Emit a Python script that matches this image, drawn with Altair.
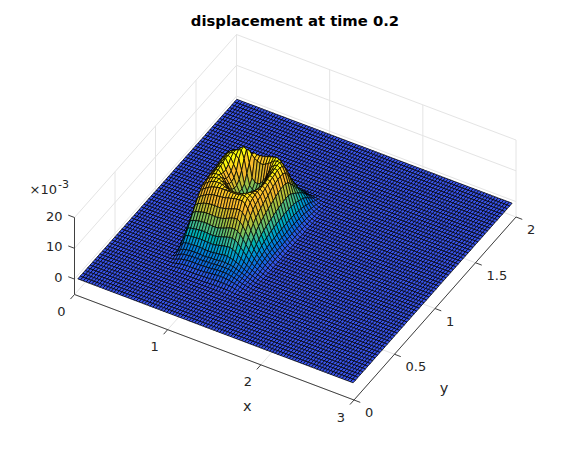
import altair as alt

alt.data_transformers.disable_max_rows()

TITLE = "displacement at time 0.2"
X_TICKS = [0, 1, 2, 3]
Y_TICKS = [0, 0.5, 1, 1.5, 2]
Y_TICK_TEXT = ["0", "0.5", "1", "1.5", "2"]
Z_TICKS = [0, 10, 20]
Z_MIN = -5
Z_MAX = 20
NX = 100
NY = 66
X_FIRST, X_STEP = 0.025, 0.02985
Y_FIRST, Y_STEP = 0.012, 0.0302
BUMP_K0 = 20   # mesh column of the first row of the table
BUMP_J0 = 12   # mesh row of the first column of the table

# displacement (x 1e-3); rows run along x, columns along y
BUMP = [
    [0,0,0,0,0,0,.1,.2,.3,.5,.7,.9,1.1,1.3,1.5,1.7,1.8,1.9,2,2,2,2,1.9,1.9,1.8,1.7,1.5,1.3,1,.7,.5,.3,.1,0,0,0,0],
    [0,0,0,.1,.4,.9,1.7,2.8,4,5.3,6.6,7.9,9.2,10.3,11.4,12,12.5,12.8,13,13,13,13,13,12.8,12.5,12,11,10,8.5,7,5.5,4,2.6,1.5,.6,.1,0],
    [0,0,.1,.4,1,1.8,3,4.5,6,7.5,9.2,10.8,12.3,13.6,14.5,15,15.2,15.5,15.5,15.5,15.5,15.5,15.5,15.2,15,14.3,13,11.5,10,8.2,6.5,4.8,3.2,1.9,.8,.2,0],
    [0,.1,.3,.8,1.5,2.2,3.4,4.9,6.4,8,10,11.7,13.2,14.6,15.5,16.2,16.5,16.5,16.7,17,17.2,17.5,17.5,17.2,17,16,14.5,12.8,11,9,7,5.2,3.5,2,.9,.2,0],
    [0,.2,.5,1.1,1.8,2.4,3.5,4.9,6.5,8.2,10.2,12,13.7,15.2,16.2,16.8,17.2,17.5,17.8,18,18,18.3,18.5,18.3,17.7,16.8,15,13.2,11.3,9.2,7.2,5.3,3.6,2.1,.9,.2,0],
    [0,.3,.7,1.3,1.9,2.5,3.5,5,6.7,8.5,10.5,12.5,14.3,15.8,16.8,17.3,17.6,18,18.3,18.6,19,19,19,18.7,17.8,17,15.2,13.5,11.5,9.3,7.3,5.4,3.6,2.1,.9,.2,0],
    [0,.3,.8,1.4,2,2.6,3.6,5.1,6.8,8.6,10.7,12.7,14.7,16.3,17.2,17.5,17.5,17,16.5,16.5,17.3,18.5,19.3,19.3,18.5,17.3,15.5,13.7,11.6,9.4,7.3,5.4,3.6,2.1,.9,.2,0],
    [.1,.4,.9,1.5,2.1,2.6,3.7,5.2,6.9,8.7,10.8,12.9,15,16.6,17.4,17.5,17,15.8,14.8,14.8,15.5,16.8,18.8,19.7,19.5,17.8,15.8,13.9,11.7,9.5,7.4,5.4,3.6,2.1,.9,.2,0],
    [.1,.4,.9,1.5,2.1,2.6,3.6,5.2,6.9,8.7,10.8,13,15.2,16.8,17.3,17,16,14.5,13.5,13.3,13.7,15,18,20,20.2,18.2,16,14,11.8,9.6,7.5,5.5,3.7,2.2,.9,.2,0],
    [.1,.4,.9,1.5,2.1,2.6,3.6,5.1,6.8,8.6,10.8,13,15.3,17,17.2,16.5,15,13.2,12,11.5,11.5,12.5,14.5,17.5,19.5,18.5,16.5,14.3,12,9.8,7.6,5.6,3.8,2.2,1,.2,0],
    [.1,.4,.9,1.5,2.1,2.5,3.5,5,6.7,8.5,10.7,13,15.4,17,16.8,15.5,13.5,11.5,10.3,9.8,9.7,9.8,10.5,13,15.5,17.5,17,14.8,12.3,10,7.8,5.7,3.9,2.3,1,.2,0],
    [.1,.4,.9,1.5,2.1,2.5,3.5,5,6.7,8.5,10.7,13,15.5,17,16.5,14.5,12,10,8.8,8.3,8,8,8.5,9.5,11,16.5,16.8,15.2,12.6,10.2,7.9,5.8,3.9,2.3,1,.2,0],
    [.1,.5,1,1.6,2.2,2.6,3.5,5,6.8,8.6,10.9,13.2,15.7,17,16.3,14,11.2,9.3,8,7.5,7.3,7.3,7.6,8.5,10,16,16.8,15.5,13,10.4,8,5.9,4,2.3,1,.2,0],
    [.1,.5,1,1.6,2.2,2.7,3.6,5.2,7,8.9,11.1,13.4,16,17,16.2,13.8,11,9,7.8,7.2,7,7,7.4,8.3,9.8,15.5,17,15.8,13.2,10.6,8.2,6,4,2.4,1,.2,0],
    [.1,.6,1.1,1.7,2.2,2.7,3.7,5.4,7.3,9.2,11.5,13.7,16.2,17,16.2,13.8,11.2,9.3,8.2,7.5,7.2,7.2,7.6,8.6,10.3,15.5,17.2,16.2,13.5,10.8,8.3,6,4.1,2.4,1,.2,0],
    [.1,.6,1.2,1.8,2.3,2.8,3.8,5.6,7.6,9.6,11.9,14,16.5,17,16.4,14.2,12,10.3,9.3,8.8,8.5,8.6,8.9,9.8,11.5,16,17.5,16.5,13.8,11,8.4,6.1,4.1,2.4,1,.2,0],
    [.2,.7,1.3,1.9,2.4,2.9,4,5.9,7.9,10,12.3,14.4,16.6,17.2,16.6,15,13.5,12.2,11.3,10.8,10.4,10.3,10.6,11.5,13,16.5,17.8,16.8,14,11.2,8.5,6.2,4.1,2.4,1.1,.3,0],
    [.2,.7,1.4,2,2.5,3,4.1,6,8.1,10.2,12.5,14.6,16.7,17.4,17,15.8,14.8,13.8,13,12.5,12.2,12.2,12.7,13.7,15,17.2,18,17,14,11.2,8.5,6.2,4.1,2.4,1.1,.3,0],
    [.3,.8,1.5,2,2.5,3,4.1,6.1,8.2,10.2,12.6,14.7,16.8,17.5,17.4,16.8,16.2,15.5,15,14.7,14.5,14.7,15.2,16,17,18,18.3,16.5,13.8,11,8.4,6.1,4,2.4,1.1,.3,0],
    [.3,.8,1.5,2,2.5,2.9,3.9,5.8,7.9,9.9,12,14.1,16.1,17,17.1,17,16.6,16.3,16.1,16,16,16.2,16.6,17.2,17.8,18.3,18,16,13.2,10.6,8.1,5.9,3.9,2.3,1,.3,0],
    [.3,.8,1.5,2,2.4,2.8,3.7,5.3,7.2,9.1,11,13,14.8,15.9,16.4,16.8,16.8,16.8,16.8,17,17.2,17.5,17.7,18,18.2,18.2,17.2,15,12.5,10,7.7,5.7,3.8,2.2,1,.2,0],
    [.3,.8,1.4,1.9,2.3,2.6,3.3,4.6,6.2,7.9,9.6,11.3,12.9,14,14.7,15.2,15.6,16,16.3,16.7,17,17.3,17.5,17.8,17.7,17.3,16,14,11.5,9.3,7.3,5.3,3.5,2,.9,.2,0],
    [.3,.8,1.3,1.7,2,2.3,2.9,3.9,5.2,6.6,8,9.4,10.7,11.7,12.4,13,13.5,14,14.4,15,15.5,15.8,16,16.2,16,15.5,14,12.2,10.2,8.3,6.7,5,3.3,1.9,.8,.2,0],
    [.3,.7,1.1,1.5,1.7,2,2.4,3.2,4.2,5.3,6.4,7.5,8.5,9.3,10,10.5,11,11.4,11.8,12.2,12.6,13,13.2,13.3,13.2,12.7,11.5,10,8.5,7.3,6,4.5,3,1.7,.7,.2,0],
    [.2,.6,.9,1.2,1.4,1.6,1.9,2.4,3.2,4,4.8,5.6,6.3,6.9,7.4,7.8,8.1,8.4,8.7,9,9.2,9.4,9.6,9.7,9.7,9.3,8.6,7.8,7,6.2,5.2,4,2.7,1.5,.6,.1,0],
    [.1,.4,.7,.9,1.1,1.3,1.5,1.9,2.4,3,3.5,4,4.5,5,5.3,5.6,5.8,6,6.2,6.3,6.4,6.5,6.5,6.5,6.5,6.3,6,5.6,5.2,4.7,4,3.1,2.1,1.2,.5,.1,0],
    [0,.2,.4,.6,.8,.9,1.1,1.4,1.7,2.1,2.5,2.8,3.1,3.4,3.6,3.7,3.8,3.9,4,4,4.1,4.1,4.1,4.1,4,3.9,3.7,3.5,3.2,2.8,2.4,1.9,1.3,.8,.3,.1,0],
    [0,.1,.2,.4,.5,.6,.8,1,1.2,1.4,1.7,1.9,2.1,2.2,2.3,2.4,2.5,2.5,2.5,2.5,2.5,2.5,2.5,2.5,2.4,2.3,2.2,2,1.8,1.5,1.2,.9,.6,.3,.1,0,0],
    [0,0,.1,.2,.3,.3,.5,.6,.7,.9,1,1.1,1.2,1.3,1.3,1.4,1.4,1.4,1.4,1.4,1.4,1.4,1.4,1.3,1.3,1.2,1.1,1,.8,.7,.5,.4,.2,.1,0,0,0],
    [0,0,0,.1,.1,.1,.2,.3,.3,.4,.5,.5,.5,.6,.6,.6,.6,.6,.6,.6,.6,.6,.6,.5,.5,.5,.4,.4,.3,.2,.2,.1,.1,0,0,0,0],
]

PARULA = ["#4a48ef", "#2a5ae6", "#1478d8", "#08a0cc", "#2db7a3", "#61bd71",
          "#9bbf47", "#d1bb2f", "#f4b52c", "#fcc02c", "#f9fb0e"]
C_LOW, C_HIGH = -1.06, 18.0


def project(x, y, z):
    """MATLAB-style orthographic view of the box, in page pixels."""
    return (74.5 + 93.17 * x + 81.0 * y,
            294.5 + 35.17 * x - 91.5 * y - 3.08 * (z - Z_MIN))


def height(k, j):
    a, b = k - BUMP_K0, j - BUMP_J0
    if 0 <= a < len(BUMP) and 0 <= b < len(BUMP[a]):
        return BUMP[a][b]
    return 0


features = []
for k in range(NX - 1):
    for j in range(NY - 2, -1, -1):
        corners = [(k, j), (k + 1, j), (k + 1, j + 1), (k, j + 1), (k, j)]
        ring = []
        for a, b in corners:
            px, py = project(X_FIRST + a * X_STEP, Y_FIRST + b * Y_STEP, height(a, b))
            ring.append([round(px, 1), round(py, 1)])
        level = sum(height(a, b) for a, b in corners[:4]) / 4
        features.append({"type": "Feature",
                         "geometry": {"type": "Polygon", "coordinates": [ring]},
                         "properties": {"z": round(level, 2)}})

stops = [C_LOW + (C_HIGH - C_LOW) * i / (len(PARULA) - 1) for i in range(len(PARULA))]

surface = alt.Chart(alt.Data(values=features)).mark_geoshape(
    stroke="black", strokeWidth=0.75
).encode(
    fill=alt.Fill("properties.z:Q",
                  scale=alt.Scale(domain=stops, range=PARULA, clamp=True), legend=None)
).project(type="identity", scale=1, translate=[-8, -8])


def seg(a, b):
    p, q = project(*a), project(*b)
    return {"x": p[0], "y": p[1], "x2": q[0], "y2": q[1]}


grid_rows = []
for t in X_TICKS:
    grid_rows.append(seg((t, 0, Z_MIN), (t, 2, Z_MIN)))
    grid_rows.append(seg((t, 2, Z_MIN), (t, 2, Z_MAX)))
for t in Y_TICKS:
    grid_rows.append(seg((0, t, Z_MIN), (3, t, Z_MIN)))
    grid_rows.append(seg((0, t, Z_MIN), (0, t, Z_MAX)))
for t in Z_TICKS:
    grid_rows.append(seg((0, 0, t), (0, 2, t)))
    grid_rows.append(seg((0, 2, t), (3, 2, t)))

axis_rows = [seg((0, 0, Z_MIN), (3, 0, Z_MIN)),
             seg((3, 0, Z_MIN), (3, 2, Z_MIN)),
             seg((0, 0, Z_MIN), (0, 0, Z_MAX))]
for t in X_TICKS:
    axis_rows.append(seg((t, 0, Z_MIN), (t, -0.05, Z_MIN)))
for t in Y_TICKS:
    axis_rows.append(seg((3, t, Z_MIN), (3.067, t, Z_MIN)))
for t in Z_TICKS:
    axis_rows.append(seg((0, 0, t), (-0.067, 0, t)))

X_SCALE = alt.Scale(domain=[8, 562], range=[0, 554])
Y_SCALE = alt.Scale(domain=[442, 8], range=[434, 0])


def rules(rows, color, width):
    return alt.Chart(alt.Data(values=rows)).mark_rule(color=color, strokeWidth=width).encode(
        x=alt.X("x:Q", scale=X_SCALE, axis=None),
        y=alt.Y("y:Q", scale=Y_SCALE, axis=None),
        x2="x2:Q", y2="y2:Q")


def texts(rows, size=13, weight="normal", align="center", color="#262626"):
    return alt.Chart(alt.Data(values=rows)).mark_text(
        font="DejaVu Sans", fontSize=size, fontWeight=weight, align=align,
        baseline="middle", color=color
    ).encode(
        x=alt.X("x:Q", scale=X_SCALE, axis=None),
        y=alt.Y("y:Q", scale=Y_SCALE, axis=None),
        text="t:N")


def at(point, dx, dy, label):
    p = project(*point)
    return {"x": p[0] + dx, "y": p[1] + dy, "t": label}


x_labels = [at((t, 0, Z_MIN), -13, 17.5, str(t)) for t in X_TICKS]
y_labels = [at((3, t, Z_MIN), 11, 13, s) for t, s in zip(Y_TICKS, Y_TICK_TEXT)]
z_labels = [at((0, 0, t), -12, -1, str(t)) for t in Z_TICKS]
exp_base = [at((0, 0, Z_MAX), -17.5, -28, "×10")]
exp_power = [at((0, 0, Z_MAX), -16.5, -33, "-3")]
names = [at((1.5, 0, Z_MIN), 33, 60, "x"), at((3, 1, Z_MIN), 9, 80, "y")]
title = [{"x": 295, "y": 22, "t": TITLE}]

chart = alt.layer(
    rules(grid_rows, "#e4e4e4", 1),
    surface,
    rules(axis_rows, "#404040", 1),
    texts(x_labels),
    texts(y_labels, align="left"),
    texts(z_labels, align="right"),
    texts(exp_base, align="right"),
    texts(exp_power, size=11, align="left"),
    texts(names, size=14.5),
    texts(title, size=14.8, weight="bold", color="#000000"),
).properties(
    width=554, height=434, padding=0,
    autosize=alt.AutoSizeParams(type="none")
).configure_view(stroke=None)

chart.save("out.html", embed_options={"renderer": "svg", "actions": False})
